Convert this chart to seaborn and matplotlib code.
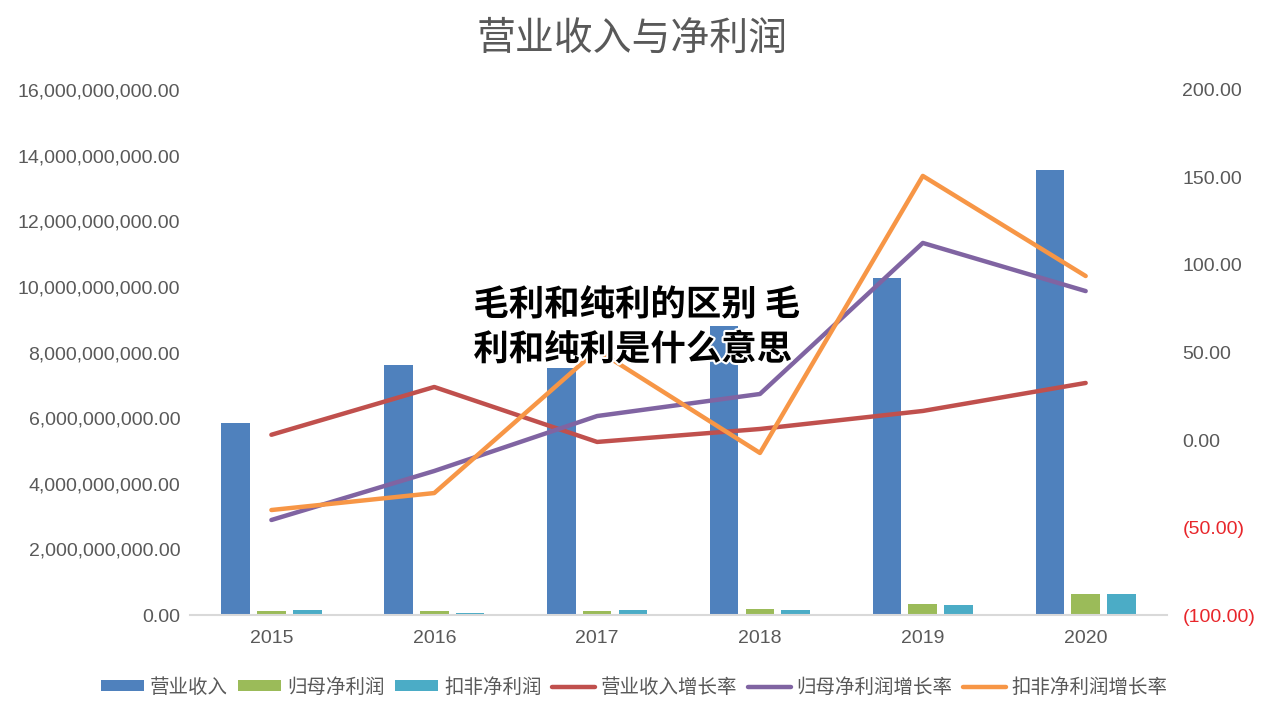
import numpy as np
import pandas as pd
import matplotlib
matplotlib.use("Agg")
import matplotlib.pyplot as plt
import matplotlib.patheffects as pe
from matplotlib.patches import Patch
from matplotlib.lines import Line2D
from matplotlib.ticker import FuncFormatter
import seaborn as sns

years = ["2015", "2016", "2017", "2018", "2019", "2020"]
revenue = [5.85e9, 7.62e9, 7.53e9, 8.81e9, 10.27e9, 13.57e9]
net_profit = [0.12e9, 0.12e9, 0.12e9, 0.18e9, 0.35e9, 0.64e9]
net_profit_deducted = [0.14e9, 0.07e9, 0.14e9, 0.14e9, 0.31e9, 0.63e9]
revenue_growth = [3.0, 30.3, -1.1, 6.3, 16.6, 32.6]
profit_growth = [-45.7, -17.7, 13.7, 26.3, 112.6, 85.1]
deducted_growth = [-40.0, -30.3, 51.4, -7.4, 150.9, 93.7]

bar_names = ["营业收入", "归母净利润", "扣非净利润"]
line_names = ["营业收入增长率", "归母净利润增长率", "扣非净利润增长率"]
bar_colors = ["#4F81BD", "#9BBB59", "#4BACC6"]
line_colors = ["#C0504D", "#8064A2", "#F79646"]

sns.set_theme(style="white")
plt.rcParams['font.family'] = ['Liberation Sans', 'Noto Sans CJK SC']
CJK = ['Noto Sans CJK SC', 'DejaVu Sans']

bars_df = pd.DataFrame({
    "year": years * 3,
    "series": [bar_names[0]] * 6 + [bar_names[1]] * 6 + [bar_names[2]] * 6,
    "value": revenue + net_profit + net_profit_deducted,
})
idx = np.arange(len(years))
lines_df = pd.DataFrame({
    "x": np.concatenate([idx, idx, idx]),
    "series": [line_names[0]] * 6 + [line_names[1]] * 6 + [line_names[2]] * 6,
    "value": revenue_growth + profit_growth + deducted_growth,
})

fig = plt.figure(figsize=(12.69, 7.13), dpi=100)
ax = fig.add_axes([0.1497, 0.1374, 0.77, 0.7364])

sns.barplot(data=bars_df, x="year", y="value", hue="series", hue_order=bar_names,
            palette=bar_colors, width=0.66, gap=0.2, ax=ax, legend=False,
            saturation=1, errorbar=None, linewidth=0)
ax.set_xlim(-0.5, 5.5)
ax.set_ylim(0, 16e9)
ax.set_yticks(np.arange(0, 16e9 + 1, 2e9))
ax.yaxis.set_major_formatter(FuncFormatter(lambda v, p: f"{v:,.2f}"))
ax.set_xlabel("")
ax.set_ylabel("")
for s in ["left", "right", "top"]:
    ax.spines[s].set_visible(False)
ax.spines["bottom"].set_color("#D9D9D9")
ax.spines["bottom"].set_linewidth(1.5)
ax.tick_params(axis="both", length=0, labelsize=14, colors="#595959")
ax.tick_params(axis="y", pad=7)
ax.tick_params(axis="x", pad=11)

ax2 = ax.twinx()
sns.lineplot(data=lines_df, x="x", y="value", hue="series", hue_order=line_names,
             palette=line_colors, linewidth=3.2, ax=ax2, legend=False)
ax2.set_ylim(-100, 200)
ax2.set_yticks(np.arange(-100, 201, 50))

def rfmt(v, p):
    if v < 0:
        return f"({abs(v):.2f})"
    return f"{v:.2f}"
ax2.yaxis.set_major_formatter(FuncFormatter(rfmt))
ax2.set_xlabel("")
ax2.set_ylabel("")
for s in ["left", "right", "top", "bottom"]:
    ax2.spines[s].set_visible(False)
ax2.tick_params(axis="y", length=0, labelsize=14, colors="#595959", pad=11)
for lbl, v in zip(ax2.get_yticklabels(), np.arange(-100, 201, 50)):
    if v < 0:
        lbl.set_color("#E8262B")
ax2.set_xlim(-0.5, 5.5)

fig.text(0.498, 0.946, "营业收入与净利润", ha="center", va="center",
         fontsize=28, color="#595959", family=CJK)

handles = [Patch(facecolor=c, edgecolor="none") for c in bar_colors] + \
          [Line2D([0], [0], color=c, linewidth=3.2) for c in line_colors]
fig.legend(handles, bar_names + line_names, loc="center", bbox_to_anchor=(0.5, 0.036),
           ncol=6, frameon=False, prop={'family': CJK, 'size': 14, 'weight': 'light'},
           labelcolor="#595959",
           handlelength=2.2, handleheight=0.5, columnspacing=0.55, handletextpad=0.3)

fig.text(0.373, 0.541, "毛利和纯利的区别 毛\n利和纯利是什么意思", ha="left", va="center",
         fontsize=25.5, fontweight="bold", color="black", linespacing=1.35, family=CJK,
         path_effects=[pe.withStroke(linewidth=3, foreground="white")])

fig.savefig("out.png", dpi=100)
